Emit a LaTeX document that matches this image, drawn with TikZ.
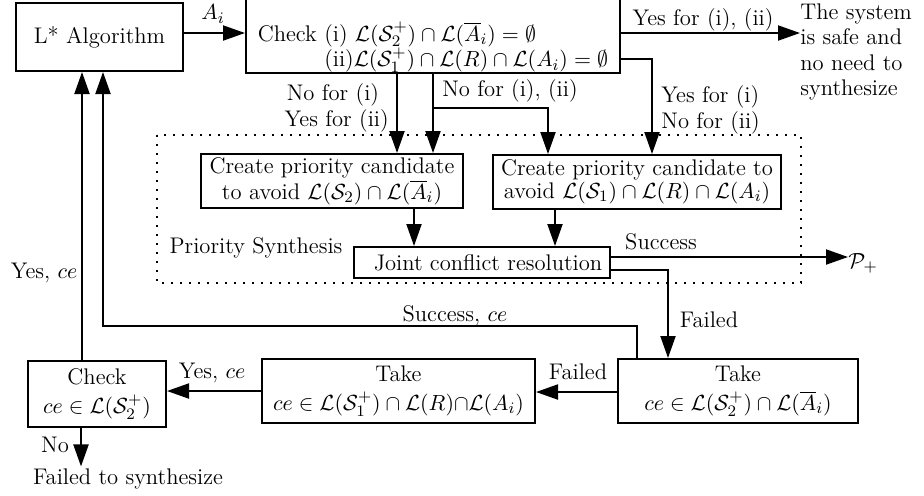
\documentclass[tikz,border=0pt]{standalone}
\usetikzlibrary{arrows.meta}
\begin{document}
\begin{tikzpicture}[x=0.5pt,y=-0.5pt,
  box/.style={draw,line width=1pt,align=center,inner sep=0pt,font=\fontsize{11.3}{11.3}\selectfont},
  tbox/.style={box,font=\fontsize{11.3}{14.6}\selectfont},
  lbl/.style={inner sep=0pt,font=\fontsize{11.3}{12.8}\selectfont,align=center},
  arr/.style={line width=1pt,-{Triangle[length=11pt,width=7.5pt]}},
  ln/.style={line width=1pt},
  dotbox/.style={line width=1pt,dash pattern=on 0.9pt off 3.6pt}]
\useasboundingbox (0,0) rectangle (924,495);
% boxes
\node[box,minimum width=83.5pt,minimum height=34pt] (lstar) at (99.5,37) {L* Algorithm};
\node[draw,line width=1pt,inner sep=0pt,font=\fontsize{11.3}{11.3}\selectfont,minimum width=187pt,text height=22.5pt,text depth=16pt,anchor=base] (check) at (433,41) {Check {\def\arraystretch{1.02}\begin{tabular}[t]{@{}l@{}}(i) $\mathcal{L}(\mathcal{S}_2^+)\cap\mathcal{L}(\overline{A}_i)=\emptyset$\\(ii)$\mathcal{L}(\mathcal{S}_1^+)\cap\mathcal{L}(R)\cap\mathcal{L}(A_i)=\emptyset$\end{tabular}}};
\node[lbl,align=left,anchor=west] (safe) at (800,52) {The system\\is safe and\\no need to\\synthesize};
\draw[dotbox] (157,135) rectangle (801,283);
\node[box,minimum width=131pt,minimum height=27pt] (create1) at (332,181) {Create priority candidate\\to avoid $\mathcal{L}(\mathcal{S}_2)\cap\mathcal{L}(\overline{A}_i)$};
\node[box,minimum width=144pt,minimum height=27pt] (create2) at (637,182) {Create priority candidate to\\avoid $\mathcal{L}(\mathcal{S}_1)\cap\mathcal{L}(R)\cap\mathcal{L}(A_i)$};
\node[box,minimum width=128pt,minimum height=15.5pt] (joint) at (482,262.5) {\hspace{6pt}Joint conflict resolution};
\node[lbl] (ps) at (256,248) {Priority Synthesis};
\node[lbl,anchor=west] (pplus) at (848,263) {$\mathcal{P}_+$};
\node[tbox,minimum width=120pt,minimum height=32pt] (take2) at (738,391) {Take\\$ce\in\mathcal{L}(\mathcal{S}_2^+)\cap\mathcal{L}(\overline{A}_i)$};
\node[tbox,minimum width=136.5pt,minimum height=32pt] (take1) at (398.5,391) {Take\\$ce\in\mathcal{L}(\mathcal{S}_1^+)\cap\mathcal{L}(R){\cap}\mathcal{L}(A_i)$};
\node[tbox,minimum width=69pt,minimum height=33pt] (check2) at (97,394) {Check\\$ce\in\mathcal{L}(\mathcal{S}_2^+)$};
\node[lbl,inner sep=1pt] (fail) at (128,479) {Failed to synthesize};
% helper coordinates
\coordinate (br) at (433,108);
\coordinate (sc) at (103,326);
% connectors
\draw[arr] (lstar.east|-0,33) -- (check.west|-0,33);
\node[lbl] (lai) at (213,14) {$A_i$};
\draw[arr] (check.east|-0,33) -- (safe.west|-0,33);
\node[lbl] (lyes) at (703,20) {Yes for (i), (ii)};
\draw[arr] (check.east|-0,59) -| (create2.north-|652,0);
\node[lbl,align=left,anchor=west] (lyn) at (661,110) {Yes for (i)\\No for (ii)};
\draw[arr] (check.south-|397,0) -- (create1.north-|397,0);
\node[lbl] (lny) at (333,108) {No for (i)\\\ Yes for (ii)};
\draw[arr] (check.south-|br) -- (create1.north-|br);
\draw[arr] (br) -| (create2.north-|548,0);
\node[lbl] (lnn) at (510,91) {No for (i), (ii)};
\draw[arr] (create1.south-|414,0) -- (joint.north-|414,0);
\draw[arr] (create2.south-|555,0) -- (joint.north-|555,0);
\draw[arr] (joint.east|-0,257) -- (pplus.west|-0,257);
\node[lbl] (lsucc) at (661,242) {Success};
\draw[arr] (joint.east|-0,270) -| (take2.north-|668,0);
\node[lbl] (lfail1) at (709,320) {Failed};
\draw[arr] (take2.north-|637,0) |- (sc) -- (lstar.south-|sc);
\node[lbl] (lsce) at (455,316) {Success, $ce$};
\draw[arr] (take2.west|-0,392) -- (take1.east|-0,392);
\node[lbl] (lfail2) at (578,372) {Failed};
\draw[arr] (take1.west|-0,391) -- (check2.east|-0,391);
\node[lbl] (lyce1) at (212,373) {Yes, $ce$};
\draw[arr] (check2.north-|82,0) -- (lstar.south-|82,0);
\node[lbl] (lyce2) at (44,273) {Yes, $ce$};
\draw[arr] (check2.south-|81,0) -- (fail.north-|81,0);
\node[lbl] (lno) at (55,445) {No};
\end{tikzpicture}
\end{document}
